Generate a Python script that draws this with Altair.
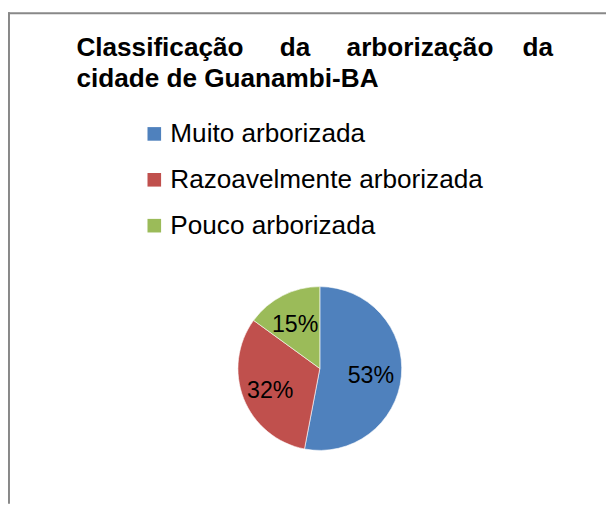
import altair as alt
import pandas as pd

categorias = ["Muito arborizada", "Razoavelmente arborizada", "Pouco arborizada"]
valores = [53, 32, 15]
rotulos = ["53%", "32%", "15%"]
cores = ["#4F81BD", "#C0504D", "#9BBB59"]
NB = "\u00a0"
titulo_l1 = "Classificação" + NB * 5 + "da" + NB * 5 + "arborização" + NB * 4 + "da"
titulo_l2 = "cidade de Guanambi-BA"

df = pd.DataFrame({
    "categoria": categorias,
    "valor": valores,
    "rotulo": rotulos,
    "ordem": list(range(len(categorias))),
})

W, H = 606, 499
CX, CY, R = 316, 362, 83
FONT = "Liberation Sans"

color = alt.Color(
    "categoria:N",
    scale=alt.Scale(domain=categorias, range=cores),
    sort=categorias,
    legend=alt.Legend(
        title=None, orient="none", legendX=135, legendY=111,
        labelFontSize=26.5, labelFont=FONT, labelColor="black",
        symbolType="square", symbolSize=190, symbolStrokeWidth=0,
        rowPadding=19.5, labelOffset=3, padding=0, labelLimit=0,
    ),
)

base = alt.Chart(df).encode(
    theta=alt.Theta("valor:Q", stack=True),
    order=alt.Order("ordem:Q"),
)

pie = base.mark_arc(stroke="white", strokeWidth=0.6, x=CX, y=CY, outerRadius=R).encode(color=color)
labels = base.mark_text(radius=53, fontSize=23.5, font=FONT, color="black", x=CX - 1, y=CY + 3).encode(
    text="rotulo:N"
)

one = pd.DataFrame({"a": [0]})
borda_top = alt.Chart(one).mark_rule(color="#888888", strokeWidth=2).encode(
    x=alt.value(0), x2=alt.value(W), y=alt.value(2)
)
borda_left = alt.Chart(one).mark_rule(color="#888888", strokeWidth=2).encode(
    x=alt.value(1), y=alt.value(1), y2=alt.value(H)
)

def titulo(txt, yy):
    return alt.Chart(pd.DataFrame({"t": [txt]})).mark_text(
        align="left", baseline="alphabetic", font=FONT, fontWeight="bold",
        fontSize=26.5, color="black"
    ).encode(text="t:N", x=alt.value(69.3), y=alt.value(yy))

chart = alt.layer(
    borda_top, borda_left, titulo(titulo_l1, 45.5), titulo(titulo_l2, 76.5), pie, labels
).properties(
    width=W, height=H, padding=0, autosize="none"
).configure_view(strokeWidth=0)

chart.save("out.html", embed_options={"renderer": "svg", "actions": False})
